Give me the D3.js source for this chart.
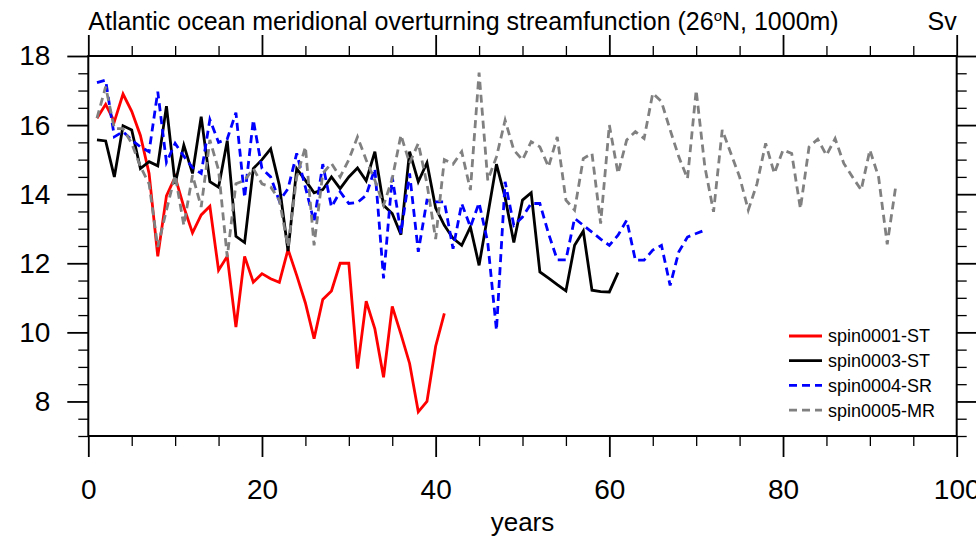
<!DOCTYPE html>
<html lang="en">
<head>
<meta charset="UTF-8">
<title>Atlantic MOC 26N 1000m</title>
<script src="https://d3js.org/d3.v7.min.js"></script>
<style>
  body { margin: 0; background: #fff; }
  svg { display: block; font-family: "Liberation Sans", Arial, sans-serif; }
  .axis line { stroke: #000; }
  .axis text { font-size: 28px; fill: #000; }
</style>
</head>
<body>
<svg width="976" height="539"></svg>
<script>
// spin-up runs, one value per model year (Sv)
const red0001 = [16.2,16.6,16.1,16.9,16.4,15.7,14.6,12.2,13.95,14.5,13.63,12.88,13.4,13.65,11.8,12.2,10.15,12.2,11.45,11.7,
  11.55,11.45,12.4,11.65,10.85,9.82,10.95,11.2,12.0,12.0,8.95,10.9,10.1,8.7,10.75,9.95,9.1,7.7,8.0,9.6,10.55];
const black0003 = [15.57,15.54,14.5,15.98,15.86,14.74,14.94,14.82,16.55,14.3,15.42,14.6,16.24,14.36,14.2,15.55,12.78,12.6,14.74,15.0,
  15.31,14.26,12.35,14.74,14.4,14.04,14.13,14.5,14.16,14.5,14.76,14.39,15.23,13.68,13.44,12.83,15.23,14.36,14.91,13.6,
  13.1,12.72,12.52,13.05,11.94,13.4,14.87,13.9,12.6,13.83,14.04,11.75,11.57,11.38,11.2,12.52,12.93,11.22,11.18,11.17,11.73];
const blue0004 = [17.23,17.3,15.66,15.81,15.57,15.37,15.23,16.97,14.92,15.47,15.1,14.77,14.6,16.16,15.5,15.6,16.36,13.9,16.15,14.74,
  14.5,13.8,14.16,15.18,14.2,13.2,14.87,13.63,14.07,13.73,13.76,13.97,14.74,11.56,14.5,12.87,14.6,12.33,13.83,13.78,
  13.78,12.42,13.73,13.05,13.75,12.6,10.06,14.36,13.1,13.34,13.73,13.73,12.86,12.1,12.1,13.3,13.1,12.9,12.7,12.52,
  12.81,13.25,12.09,12.09,12.38,12.52,11.36,12.33,12.76,12.86,12.96];
const gray0005 = [16.2,17.11,15.9,15.9,15.47,14.8,14.3,12.47,13.54,14.55,13.1,14.55,13.63,15.57,14.7,12.18,14.3,14.4,14.74,14.3,
  14.21,13.83,12.47,14.5,15.37,12.52,14.6,14.89,14.5,15.0,15.66,14.99,14.4,13.68,14.45,15.71,14.9,15.47,14.3,12.7,
  15.0,14.87,15.23,14.12,17.52,14.4,15.08,16.14,15.28,14.99,15.52,15.37,14.79,15.66,13.83,13.54,15.03,15.18,13.15,16.0,
  14.6,15.57,15.81,15.61,16.92,16.68,15.86,15.08,14.45,17.01,14.79,13.49,15.86,15.18,14.5,13.54,14.3,15.47,14.6,15.28,
  15.18,13.58,15.37,15.59,15.13,15.61,14.89,14.5,14.12,15.28,14.5,12.55,14.26];

const seriesNames = ["spin0001-ST", "spin0003-ST", "spin0004-SR", "spin0005-MR"];
const seriesData = [red0001, black0003, blue0004, gray0005];
const seriesColors = ["#ff0000", "#000000", "#0000ff", "#808080"];
const seriesDash = [null, null, "8,5", "8,5"];

const xMajor = [0, 20, 40, 60, 80, 100];
const yMajor = [8, 10, 12, 14, 16, 18];

const svg = d3.select("svg");
const m = { left: 88.3, right: 956.7, top: 56, bottom: 436 };

const x = d3.scaleLinear().domain([0, 100]).range([m.left, m.right]);
const y = d3.scaleLinear().domain([7, 18]).range([m.bottom, m.top]);

const xMinor = d3.range(0, 101, 5).filter(v => v % 20 !== 0);
const yMinor = d3.range(7, 18.01, 0.5).filter(v => v % 2 !== 0);

// tick marks on all four sides, pointing outward
function ticks(axisFn, scale, vals, size, tr, width, labels) {
  const g = svg.append("g").attr("class", "axis").attr("transform", tr)
    .call(axisFn(scale).tickValues(vals).tickSize(size).tickSizeOuter(0)
      .tickPadding(labels ? 14 : 0).tickFormat(labels ? d3.format("d") : ""));
  g.select(".domain").remove();
  g.selectAll("line").attr("stroke-width", width);
  return g;
}
ticks(d3.axisBottom, x, xMinor, 10, `translate(0,${m.bottom})`, 1.3, false);
const gx = ticks(d3.axisBottom, x, xMajor, 21, `translate(0,${m.bottom})`, 1.8, true);
gx.selectAll("text").attr("dy", "1.0em");
ticks(d3.axisTop, x, xMinor, 10, `translate(0,${m.top})`, 1.3, false);
ticks(d3.axisTop, x, xMajor, 21, `translate(0,${m.top})`, 1.8, false);
ticks(d3.axisLeft, y, yMinor, 10, `translate(${m.left},0)`, 1.3, false);
const gy = ticks(d3.axisLeft, y, yMajor, 21, `translate(${m.left},0)`, 1.8, true);
gy.selectAll("text").attr("x", -38);
ticks(d3.axisRight, y, yMinor, 10, `translate(${m.right},0)`, 1.3, false);
ticks(d3.axisRight, y, yMajor, 21, `translate(${m.right},0)`, 1.8, false);

// curves
const line = d3.line().x((d, i) => x(i + 1)).y(d => y(d));
const plot = svg.append("g");
seriesData.forEach((data, k) => {
  plot.append("path").datum(data)
    .attr("d", line)
    .attr("fill", "none")
    .attr("stroke", seriesColors[k])
    .attr("stroke-width", 2.8)
    .attr("stroke-linejoin", "miter")
    .attr("stroke-dasharray", seriesDash[k]);
});

// plot frame
svg.append("rect")
  .attr("x", m.left).attr("y", m.top)
  .attr("width", m.right - m.left).attr("height", m.bottom - m.top)
  .attr("fill", "none").attr("stroke", "#000").attr("stroke-width", 2);

// titles
const title = svg.append("text").attr("x", m.left).attr("y", 30)
  .attr("font-size", 25);
title.append("tspan").text("Atlantic ocean meridional overturning streamfunction (26");
title.append("tspan").attr("font-size", 15).attr("dy", -9).text("o");
title.append("tspan").attr("dy", 9).text("N, 1000m)");
svg.append("text").attr("x", m.right).attr("y", 30).attr("text-anchor", "end")
  .attr("font-size", 25).text("Sv");
svg.append("text").attr("x", (m.left + m.right) / 2).attr("y", 531)
  .attr("text-anchor", "middle").attr("font-size", 26).text("years");

// legend
const legend = svg.append("g");
seriesNames.forEach((name, k) => {
  const ly = 336 + k * 24.7;
  legend.append("line")
    .attr("x1", 789).attr("x2", 822).attr("y1", ly).attr("y2", ly)
    .attr("stroke", seriesColors[k]).attr("stroke-width", 2.8)
    .attr("stroke-dasharray", seriesDash[k]);
  legend.append("text").attr("x", 828).attr("y", ly).attr("dy", "0.36em")
    .attr("font-size", 18).text(name);
});
</script>
</body>
</html>
